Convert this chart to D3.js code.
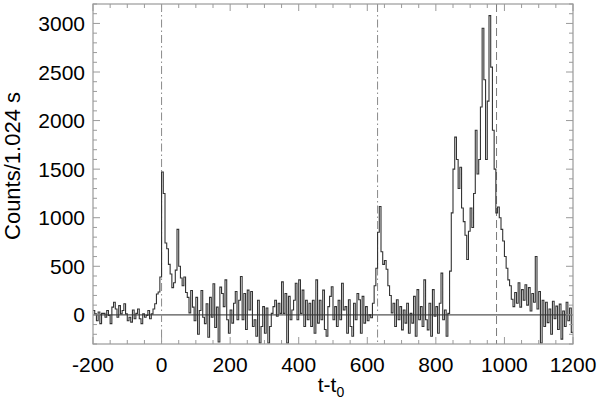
<!DOCTYPE html>
<html>
<head>
<meta charset="utf-8">
<script src="https://cdn.jsdelivr.net/npm/d3@7"></script>
<style>
  html, body { margin: 0; padding: 0; background: #fff; }
  svg { display: block; }
  text { font-family: "Liberation Sans", Arial, Helvetica, sans-serif; fill: #000; }
</style>
</head>
<body>
<svg id="chart" width="600" height="403"></svg>
<script>
// ---------------- data (counts per bin) ----------------
const binStart = -200;   // time of the first bin (s)
const binWidth = 5;      // bin width used here (s)

// t = -200 .. -5
const preBurst = [45,10,-60,30,-90,15,15,-25,45,-5,-90,80,130,60,-25,95,10,45,115,10,
  -60,-25,-75,50,-40,15,60,-40,-90,10,-25,-5,45,-40,10,60,115,215,235,390];
// t = 0 .. 170
const pulse1 = [1470,1250,740,680,520,420,280,330,460,880,500,380,300,390,230,180,20,250,80,-60,
  180,-200,45,250,-25,-90,115,-230,180,-25,320,-130,80,-280,285];
// t = 175 .. 530
const quiet1 = [220,85,360,-50,-190,50,-85,120,240,-50,150,395,-50,220,-150,255,50,240,-120,-50,
  -220,150,-290,-120,85,-190,70,-290,-120,15,85,150,-15,120,15,340,15,220,-290,190,
  -50,50,150,325,-50,360,15,255,-120,150,-50,120,-120,150,-190,360,-85,150,-50,255,
  -150,-220,85,190,290,-50,85,-120,150,-50,325,50];
// t = 535 .. 835
const pulse2 = [85,-190,155,-120,-220,120,-50,220,155,-190,190,-85,85,-60,0,-30,120,
  300,480,850,1115,650,520,560,470,300,200,
  20,120,-120,155,-50,85,-155,50,-85,120,-190,15,-85,190,-220,260,-50,85,-120,360,
  -50,-155,120,-220,260,-15,85,-190,120,430,-50,50,-220,15];
// t = 840 .. 1195
const pulse3 = [450,1050,1500,1830,1600,1300,1520,1100,960,820,570,860,1100,900,1250,
  1900,1450,1600,2140,2950,2420,1600,2200,3080,2550,1900,1500,1050,1110,1000,880,760,
  600,480,360,300,160,85,230,120,330,80,260,150,310,100,280,40,220,130,600,60,
  240,-290,150,-120,130,-80,60,-200,140,-40,90,-150,110,-250,40,-120,130,-60,70,-180];

const xTicks = [-200, 0, 200, 400, 600, 800, 1000, 1200];
const yTicks = [0, 500, 1000, 1500, 2000, 2500, 3000];
const markerDashDot = [0, 630];   // dash-dot vertical lines
const markerDashed = [977];       // dashed vertical line
const xDomain = [-200, 1200];
const yDomain = [-300, 3200];

// ---------------- build series ----------------
const counts = [].concat(preBurst, pulse1, quiet1, pulse2, pulse3);
const series = counts.map((c, i) => ({ t: binStart + i * binWidth, c }));
series.push({ t: binStart + counts.length * binWidth, c: counts[counts.length - 1] });

// ---------------- layout ----------------
const L = 93, R = 573, T = 4, B = 344;
const svg = d3.select("#chart");
const x = d3.scaleLinear().domain(xDomain).range([L, R]);
const y = d3.scaleLinear().domain(yDomain).range([B, T]);

const frameColor = "#9a9a9a";

svg.append("defs").append("clipPath").attr("id", "clip")
  .append("rect").attr("x", L).attr("y", T).attr("width", R - L).attr("height", B - T);

// zero line
svg.append("line")
  .attr("x1", L).attr("x2", R).attr("y1", y(0)).attr("y2", y(0))
  .attr("stroke", "#555").attr("stroke-width", 1.3);

// vertical marker lines
markerDashDot.forEach(v => {
  svg.append("line")
    .attr("x1", x(v)).attr("x2", x(v)).attr("y1", T).attr("y2", B)
    .attr("stroke", "#8a8a8a").attr("stroke-width", 1)
    .attr("stroke-dasharray", "8,3,1.5,3");
});
markerDashed.forEach(v => {
  svg.append("line")
    .attr("x1", x(v)).attr("x2", x(v)).attr("y1", T).attr("y2", B)
    .attr("stroke", "#7a7a7a").attr("stroke-width", 1)
    .attr("stroke-dasharray", "8,4");
});

// light curve
const line = d3.line().x(d => x(d.t)).y(d => y(d.c)).curve(d3.curveStepAfter);
svg.append("path")
  .datum(series)
  .attr("clip-path", "url(#clip)")
  .attr("fill", "none")
  .attr("stroke", "#333")
  .attr("stroke-width", 1.1)
  .attr("d", line);

// frame
svg.append("rect")
  .attr("x", L).attr("y", T).attr("width", R - L).attr("height", B - T)
  .attr("fill", "none").attr("stroke", frameColor).attr("stroke-width", 1.2);

// ticks (all four sides, inward)
const xMinor = d3.range(xDomain[0], xDomain[1] + 1, 50);
const yMinor = d3.range(-300, 3201, 100);
const tickG = svg.append("g").attr("stroke", frameColor).attr("stroke-width", 1);
xMinor.forEach(v => {
  const len = (v % 200 === 0) ? 7 : 4;
  tickG.append("line").attr("x1", x(v)).attr("x2", x(v)).attr("y1", B).attr("y2", B - len);
  tickG.append("line").attr("x1", x(v)).attr("x2", x(v)).attr("y1", T).attr("y2", T + len);
});
yMinor.forEach(v => {
  const len = (v % 500 === 0) ? 7 : 4;
  tickG.append("line").attr("x1", L).attr("x2", L + len).attr("y1", y(v)).attr("y2", y(v));
  tickG.append("line").attr("x1", R).attr("x2", R - len).attr("y1", y(v)).attr("y2", y(v));
});

// tick labels
svg.append("g").selectAll("text").data(xTicks).join("text")
  .attr("x", d => x(d)).attr("y", 372)
  .attr("text-anchor", "middle").attr("font-size", 21)
  .text(d => d);
svg.append("g").selectAll("text").data(yTicks).join("text")
  .attr("x", 85).attr("y", d => y(d)).attr("dy", "0.36em")
  .attr("text-anchor", "end").attr("font-size", 21)
  .text(d => d);

// axis titles
const xt = svg.append("text").attr("x", 331).attr("y", 392)
  .attr("text-anchor", "middle").attr("font-size", 21);
xt.append("tspan").text("t-t");
xt.append("tspan").attr("font-size", 14).attr("dy", 5).text("0");

svg.append("text")
  .attr("transform", "translate(20,166) rotate(-90)")
  .attr("text-anchor", "middle").attr("font-size", 22)
  .text("Counts/1.024 s");
</script>
</body>
</html>
